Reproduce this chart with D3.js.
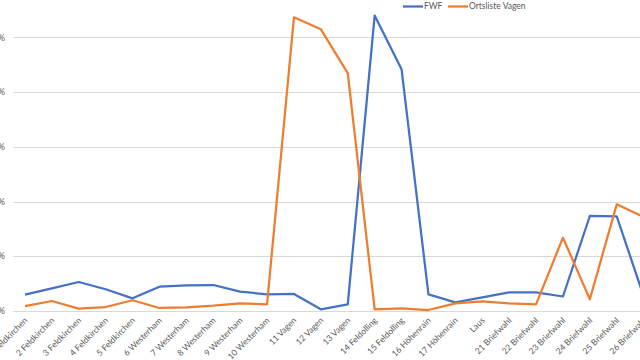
<!DOCTYPE html>
<html><head><meta charset="utf-8">
<script src="https://cdn.jsdelivr.net/npm/d3@7"></script>
<style>
html,body{margin:0;padding:0;background:#fff;overflow:hidden}
svg{display:block}
text{font-family:Lato,"Liberation Sans",sans-serif;fill:#595959}
</style></head><body>
<svg id="chart" width="640" height="360"></svg>
<script>
const categories = ["1 Feldkirchen","2 Feldkirchen","3 Feldkirchen","4 Feldkirchen","5 Feldkirchen",
  "6 Westerham","7 Westerham","8 Westerham","9 Westerham","10 Westerham",
  "11 Vagen","12 Vagen","13 Vagen","14 Feldolling","15 Feldolling",
  "16 Höhenrain","17 Höhenrain","Laus","21 Briefwahl","22 Briefwahl",
  "23 Briefwahl","24 Briefwahl","25 Briefwahl","26 Briefwahl"];
const fwf = [2.98,4.15,5.30,3.97,2.32,4.44,4.70,4.75,3.53,3.05,3.11,0.31,1.22,54.0,44.2,3.05,1.59,2.50,3.42,3.42,2.65,17.37,17.3,2.7];
const ortslisteVagen = [0.91,1.83,0.42,0.73,1.96,0.55,0.68,0.97,1.41,1.22,53.7,51.5,43.5,0.31,0.49,0.18,1.41,1.77,1.41,1.22,13.4,2.14,19.5,17.2];
const yTicks = [0,10,20,30,40,50,60];
const seriesNames = ["FWF","Ortsliste Vagen"];
const colors = ["#4472C4","#ED7D31"];

const svg = d3.select("#chart");
const x = d3.scalePoint().domain(categories).range([11.5, 657.1]).padding(0.5);
const y = d3.scaleLinear().domain([0,60]).range([311, 311-6*54.7]);

// gridlines
svg.append("g").selectAll("line").data(yTicks).join("line")
  .attr("x1",13).attr("x2",660)
  .attr("y1",d=>Math.round(y(d))+0.5).attr("y2",d=>Math.round(y(d))+0.5)
  .attr("stroke","#D9D9D9").attr("stroke-width",1);

// y labels (cut off at left edge)
svg.append("g").selectAll("text").data(yTicks).join("text")
  .attr("x",5).attr("y",d=>y(d)).attr("dy","0.35em")
  .attr("text-anchor","end").attr("font-size",9)
  .text(d=>d+"%");

// x labels
svg.append("g").selectAll("text").data(categories).join("text")
  .attr("text-anchor","end").attr("font-size",8.5)
  .attr("transform",d=>`translate(${x(d)+3},${321}) rotate(-45)`)
  .text(d=>d);

// lines
const line = d3.line().x((d,i)=>x(categories[i])).y(d=>y(d));
[fwf, ortslisteVagen].forEach((s,k)=>{
  svg.append("path").datum(s).attr("d",line)
    .attr("fill","none").attr("stroke",colors[k]).attr("stroke-width",2.25)
    .attr("stroke-linejoin","round");
});

// legend
const legX = [403, 448];
seriesNames.forEach((n,k)=>{
  const g = svg.append("g");
  g.append("line").attr("x1",legX[k]).attr("x2",legX[k]+20).attr("y1",6.5).attr("y2",6.5)
    .attr("stroke",colors[k]).attr("stroke-width",2.25);
  g.append("text").attr("x",legX[k]+21).attr("y",6.5).attr("dy","0.35em")
    .attr("font-size",8.5).text(n);
});
</script>
</body></html>
